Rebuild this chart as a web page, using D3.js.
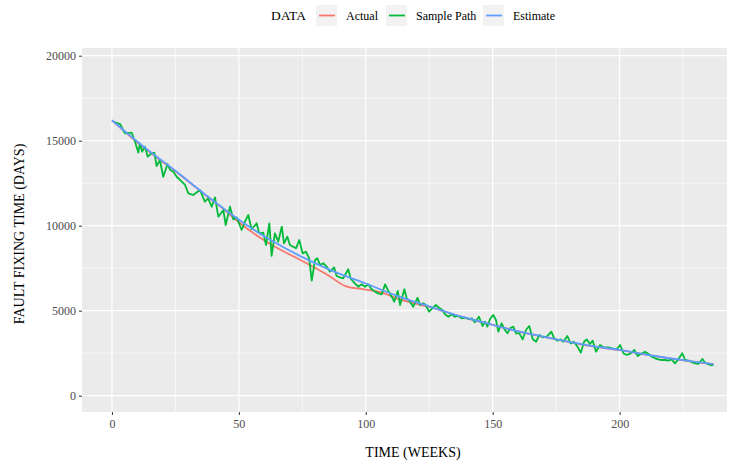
<!DOCTYPE html>
<html>
<head>
<meta charset="utf-8">
<script src="https://cdn.jsdelivr.net/npm/d3@7/dist/d3.min.js"></script>
<style>
  html, body { margin: 0; padding: 0; background: #fff; }
  svg { display: block; font-family: "Liberation Serif", "Times New Roman", serif; }
</style>
</head>
<body>
<svg id="chart" width="730" height="464"></svg>
<script>
// ===== DATA =====
const seriesNames = ['Actual', 'Sample Path', 'Estimate'];
const seriesColors = ['#F8766D', '#00BA38', '#619CFF'];

const actualWeeks  = [0, 12, 25, 37, 45, 50, 62, 74, 85, 92, 100, 106, 113, 118, 125, 137, 150, 162, 175, 187, 200, 212, 225, 237];
const actualValues = [16200, 14650, 13200, 11780, 10850, 10200, 8950, 8000, 7100, 6450, 6240, 6080, 5680, 5480, 5220, 4670, 4160, 3710, 3310, 2960, 2680, 2370, 2080, 1850];

const estimateWeeks  = [0, 12, 25, 37, 50, 62, 75, 87, 100, 112, 125, 137, 150, 162, 175, 187, 200, 212, 225, 237];
const estimateValues = [16200, 14700, 13230, 11800, 10350, 9200, 8150, 7330, 6600, 5890, 5250, 4680, 4170, 3720, 3320, 2980, 2690, 2380, 2090, 1860];

const sampleWeeks = [
  1.0, 3.2, 5.1, 7.8, 9.1, 10.4, 11.0, 11.9, 13.0, 14.1, 15.6, 16.7, 17.6, 18.9, 20.2, 21.9, 22.9, 24.2, 25.5, 27.5,
  28.8, 30.1, 32.0, 34.7, 36.6, 37.9, 39.3, 40.6, 41.9, 43.9, 44.8, 46.5, 47.8, 49.1, 51.1, 52.4, 53.7, 55.0, 57.0, 58.0,
  59.6, 60.7, 62.0, 62.9, 64.2, 65.5, 66.9, 67.8, 69.1, 70.1, 71.4, 72.5, 73.8, 75.1, 76.4, 77.7, 78.7, 80.0, 80.9, 82.0,
  83.3, 84.6, 85.9, 87.5, 88.5, 89.8, 91.1, 93.1, 94.0, 95.7, 97.1, 98.4, 99.7, 101.0, 102.0, 103.6, 104.9, 106.3, 107.6, 108.9,
  110.2, 111.2, 112.6, 113.5, 115.2, 116.1, 117.4, 118.7, 120.4, 121.4, 122.7, 123.6, 124.9, 126.2, 127.6, 128.8, 130.2, 131.2, 132.5, 133.8,
  135.1, 136.4, 137.8, 139.1, 140.4, 141.8, 143.0, 144.6, 146.0, 147.0, 147.9, 148.9, 150.2, 151.3, 152.2, 153.5, 154.8, 155.8, 156.8, 158.1,
  159.2, 160.5, 161.8, 163.1, 164.4, 165.8, 167.1, 168.4, 169.7, 171.3, 173.1, 174.2, 175.5, 176.8, 177.8, 179.4, 180.7, 182.0, 183.4, 184.7,
  186.0, 187.0, 188.3, 189.4, 190.7, 192.3, 193.6, 195.6, 197.1, 198.2, 199.2, 200.2, 201.5, 202.8, 204.1, 205.8, 207.1, 208.4, 210.0, 211.4,
  212.7, 214.0, 215.3, 216.6, 217.9, 219.2, 220.5, 221.8, 223.1, 224.7, 225.8, 227.1, 228.4, 229.7, 231.0, 232.6, 233.7, 235.0, 236.1, 237.0
];
const sampleValues = [
  16100, 15980, 15435, 15470, 14940, 14295, 14845, 14355, 14650, 14060, 14260, 14295, 13510, 13865, 12880, 13630, 13275, 13175, 12880, 12590,
  12395, 11905, 11805, 12100, 11410, 11610, 11115, 11670, 10530, 10925, 10040, 11115, 10375, 10490, 9745, 10235, 10630, 9790, 10140, 9550,
  9590, 8865, 10140, 8220, 9550, 9060, 9940, 8965, 9355, 8865, 8765, 8670, 9160, 8375, 8470, 8080, 6765, 7980, 8080, 7690,
  7790, 7590, 7295, 7550, 7040, 6965, 6905, 7435, 6905, 6610, 6410, 6550, 6410, 6550, 6315, 6120, 6020, 5965, 6550, 6160,
  5825, 5530, 6160, 5335, 6260, 5730, 5530, 5235, 5765, 5335, 5435, 5335, 4940, 5140, 5335, 5175, 5040, 4790, 4645, 4790,
  4645, 4690, 4550, 4590, 4510, 4550, 4315, 4645, 4100, 4355, 4060, 4495, 4745, 4455, 3765, 4260, 3865, 3670, 3965, 4060,
  3670, 3670, 3315, 3865, 4100, 3315, 3175, 3570, 3435, 3470, 3765, 3375, 3235, 3315, 3175, 3510, 3080, 3175, 2880, 2530,
  3175, 3315, 3040, 3235, 2590, 2980, 2845, 2845, 2790, 2730, 2790, 2980, 2495, 2395, 2455, 2690, 2335, 2455, 2590, 2455,
  2295, 2200, 2140, 2100, 2100, 2060, 2140, 1905, 2140, 2495, 2100, 2060, 1980, 1905, 1865, 2160, 1940, 1845, 1790, 1825
];

const xTicks = [0, 50, 100, 150, 200];
const xMinor = [25, 75, 125, 175, 225];
const yTicks = [0, 5000, 10000, 15000, 20000];
const yMinor = [2500, 7500, 12500, 17500];

// ===== LAYOUT =====
const PANEL = { left: 82, right: 727, top: 48, bottom: 412 };
const FONT_TICK = 12;
const FONT_TITLE = 14;
const LINE_W = 1.8;

const svg = d3.select('#chart');

const x = d3.scaleLinear().domain([-11.8, 242.3]).range([PANEL.left, PANEL.right]);
const y = d3.scaleLinear().domain([-959, 20453]).range([PANEL.bottom, PANEL.top]);

// panel background
svg.append('rect')
  .attr('x', PANEL.left).attr('y', PANEL.top)
  .attr('width', PANEL.right - PANEL.left)
  .attr('height', PANEL.bottom - PANEL.top)
  .attr('fill', '#EBEBEB');

// grid: minor first, then major
const grid = svg.append('g').attr('class', 'grid');
grid.selectAll('line.xminor').data(xMinor).enter().append('line')
  .attr('x1', d => x(d)).attr('x2', d => x(d))
  .attr('y1', PANEL.top).attr('y2', PANEL.bottom)
  .attr('stroke', '#fff').attr('stroke-width', 0.6);
grid.selectAll('line.yminor').data(yMinor).enter().append('line')
  .attr('y1', d => y(d)).attr('y2', d => y(d))
  .attr('x1', PANEL.left).attr('x2', PANEL.right)
  .attr('stroke', '#fff').attr('stroke-width', 0.6);
grid.selectAll('line.xmajor').data(xTicks).enter().append('line')
  .attr('x1', d => x(d)).attr('x2', d => x(d))
  .attr('y1', PANEL.top).attr('y2', PANEL.bottom)
  .attr('stroke', '#fff').attr('stroke-width', 1.2);
grid.selectAll('line.ymajor').data(yTicks).enter().append('line')
  .attr('y1', d => y(d)).attr('y2', d => y(d))
  .attr('x1', PANEL.left).attr('x2', PANEL.right)
  .attr('stroke', '#fff').attr('stroke-width', 1.2);

// ----- LINES -----
// smooth curves for Actual / Estimate, straight segments for the sample path
const seriesData = [
  d3.zip(actualWeeks, actualValues),
  d3.zip(sampleWeeks, sampleValues),
  d3.zip(estimateWeeks, estimateValues)
];
const smoothLine = d3.line().x(d => x(d[0])).y(d => y(d[1])).curve(d3.curveMonotoneX);
const jaggedLine = d3.line().x(d => x(d[0])).y(d => y(d[1]));

svg.append('g').attr('class', 'series')
  .selectAll('path')
  .data(seriesData)
  .enter()
  .append('path')
  .attr('d', (d, i) => i === 1 ? jaggedLine(d) : smoothLine(d))
  .attr('fill', 'none')
  .attr('stroke', (_, i) => seriesColors[i])
  .attr('stroke-width', LINE_W)
  .attr('stroke-linejoin', 'round');

// ----- AXES -----
const xAxis = svg.append('g')
  .attr('transform', `translate(0,${PANEL.bottom})`)
  .call(d3.axisBottom(x).tickValues(xTicks).tickSize(3).tickPadding(4).tickFormat(d3.format('d')));
const yAxis = svg.append('g')
  .attr('transform', `translate(${PANEL.left},0)`)
  .call(d3.axisLeft(y).tickValues(yTicks).tickSize(3).tickPadding(3).tickFormat(d3.format('d')));

[xAxis, yAxis].forEach(ax => {
  ax.select('.domain').remove();
  ax.selectAll('.tick line').attr('stroke', '#333333');
  ax.selectAll('.tick text')
    .attr('fill', '#4D4D4D')
    .style('font-family', '"Liberation Serif", serif')
    .style('font-size', FONT_TICK + 'px');
});

// axis titles
svg.append('text')
  .attr('x', 413).attr('y', 457)
  .attr('text-anchor', 'middle')
  .style('font-size', FONT_TITLE + 'px')
  .text('TIME (WEEKS)');

svg.append('text')
  .attr('transform', `translate(24,${(PANEL.top + PANEL.bottom) / 2 + 4}) rotate(-90)`)
  .attr('text-anchor', 'middle')
  .style('font-size', FONT_TITLE + 'px')
  .text('FAULT FIXING TIME (DAYS)');

// ----- LEGEND -----
const legend = svg.append('g').attr('class', 'legend');
legend.append('text')
  .attr('x', 271).attr('y', 20)
  .style('font-size', '13.5px')
  .text('DATA');

const keyX = [316, 386, 483];
const keys = legend.selectAll('g.key')
  .data(seriesNames)
  .enter()
  .append('g')
  .attr('class', 'key')
  .attr('transform', (_, i) => `translate(${keyX[i]},5)`);

keys.append('rect')
  .attr('width', 21).attr('height', 21)
  .attr('fill', '#F2F2F2');
keys.append('line')
  .attr('x1', 3).attr('x2', 19)
  .attr('y1', 10.5).attr('y2', 10.5)
  .attr('stroke', (_, i) => seriesColors[i])
  .attr('stroke-width', LINE_W);
keys.append('text')
  .attr('x', 30).attr('y', 14.5)
  .style('font-size', FONT_TICK + 'px')
  .attr('fill', '#000')
  .text(d => d);
</script>
</body>
</html>
